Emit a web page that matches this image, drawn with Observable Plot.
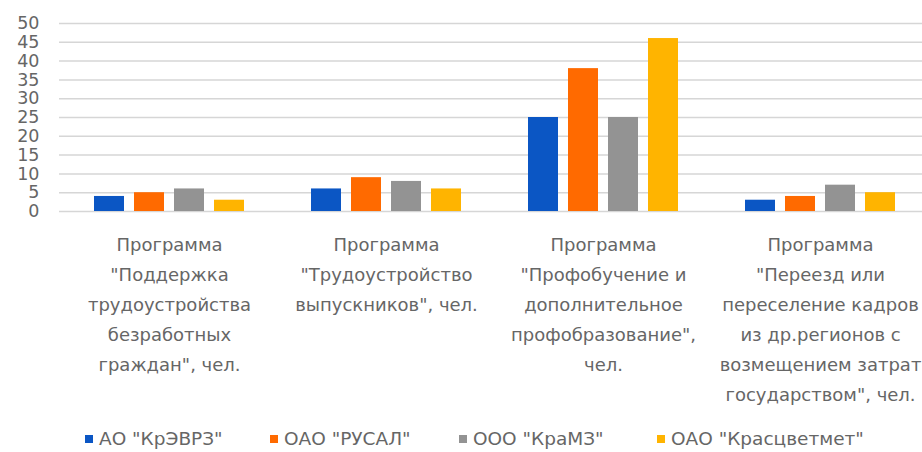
<!DOCTYPE html>
<html>
<head>
<meta charset="utf-8">
<script src="https://cdn.jsdelivr.net/npm/d3@7"></script>
<script src="https://cdn.jsdelivr.net/npm/@observablehq/plot@0.6"></script>
<style>
  html, body { margin: 0; padding: 0; background: #fff; overflow: hidden; width: 922px; height: 452px; }
  #chart { position: relative; width: 929px; height: 420px; }
  #chart svg { display: block; position: absolute; left: 0; top: 0; }
  #legend { position: relative; height: 32px; font-family: "DejaVu Sans", sans-serif; font-size: 18.5px; color: #666; }
  #legend .item { position: absolute; top: 2px; line-height: 34px; white-space: nowrap; }
  #legend .sw { display: inline-block; width: 8px; height: 8px; margin-right: 6px; vertical-align: middle; position: relative; top: -1px; }
</style>
</head>
<body>
<div id="chart"></div>
<div id="legend"></div>
<script>
const programs = [
  'Программа\n"Поддержка\nтрудоустройства\nбезработных\nграждан", чел.',
  'Программа\n"Трудоустройство\nвыпускников", чел.',
  'Программа\n"Профобучение и\nдополнительное\nпрофобразование",\nчел.',
  'Программа\n"Переезд или\nпереселение кадров\nиз др.регионов с\nвозмещением затрат\nгосударством", чел.'
];
const companies = ['АО "КрЭВРЗ"', 'ОАО "РУСАЛ"', 'ООО "КраМЗ"', 'ОАО "Красцветмет"'];
const colors = ["#0b56c4", "#ff6a00", "#939393", "#ffb400"];
const valuesKrEVRZ = [4, 6, 25, 3];
const valuesRUSAL = [5, 9, 38, 4];
const valuesKraMZ = [6, 8, 25, 7];
const valuesKrastsvetmet = [3, 6, 46, 5];
const yTicks = [0, 5, 10, 15, 20, 25, 30, 35, 40, 45, 50];

const series = [valuesKrEVRZ, valuesRUSAL, valuesKraMZ, valuesKrastsvetmet];
const data = [];
programs.forEach((p, i) => companies.forEach((c, j) => data.push({program: p, company: c, value: series[j][i]})));

const common = {
  width: 929,
  height: 420,
  marginLeft: 59,
  marginRight: 0,
  marginTop: 23,
  marginBottom: 209,
  style: {fontFamily: "DejaVu Sans, sans-serif", color: "#666", background: "transparent"}
};

// background: full-width gridlines and y axis
const back = Plot.plot({
  ...common,
  y: {domain: [0, 50], label: null},
  marks: [
    Plot.ruleY(yTicks, {stroke: "#d6d6d6", strokeWidth: 1.5}),
    Plot.axisY({ticks: yTicks, tickSize: 0, tickPadding: 20, fontSize: 17.5, label: null, fill: "#666"})
  ]
});

// foreground: grouped bars and program labels
const front = Plot.plot({
  ...common,
  fx: {domain: programs, paddingInner: 0.264, paddingOuter: 0.132, label: null},
  x: {domain: companies, paddingInner: 0.25, paddingOuter: 0.125, axis: null},
  y: {domain: [0, 50], label: null, axis: null},
  color: {domain: companies, range: colors},
  marks: [
    Plot.barY(data, {fx: "program", x: "company", y: "value", fill: "company"}),
    Plot.axisFx({anchor: "bottom", tickSize: 0, tickPadding: 18, fontSize: 18, lineHeight: 30 / 18, label: null, fill: "#666"})
  ]
});
const holder = document.getElementById("chart");
holder.appendChild(back);
holder.appendChild(front);

const legendLeft = [85, 270, 459, 657];
const legend = d3.select("#legend");
companies.forEach((c, i) => {
  const it = legend.append("div").attr("class", "item").style("left", legendLeft[i] + "px");
  it.append("span").attr("class", "sw").style("background", colors[i]);
  it.append("span").text(c);
});
</script>
</body>
</html>
